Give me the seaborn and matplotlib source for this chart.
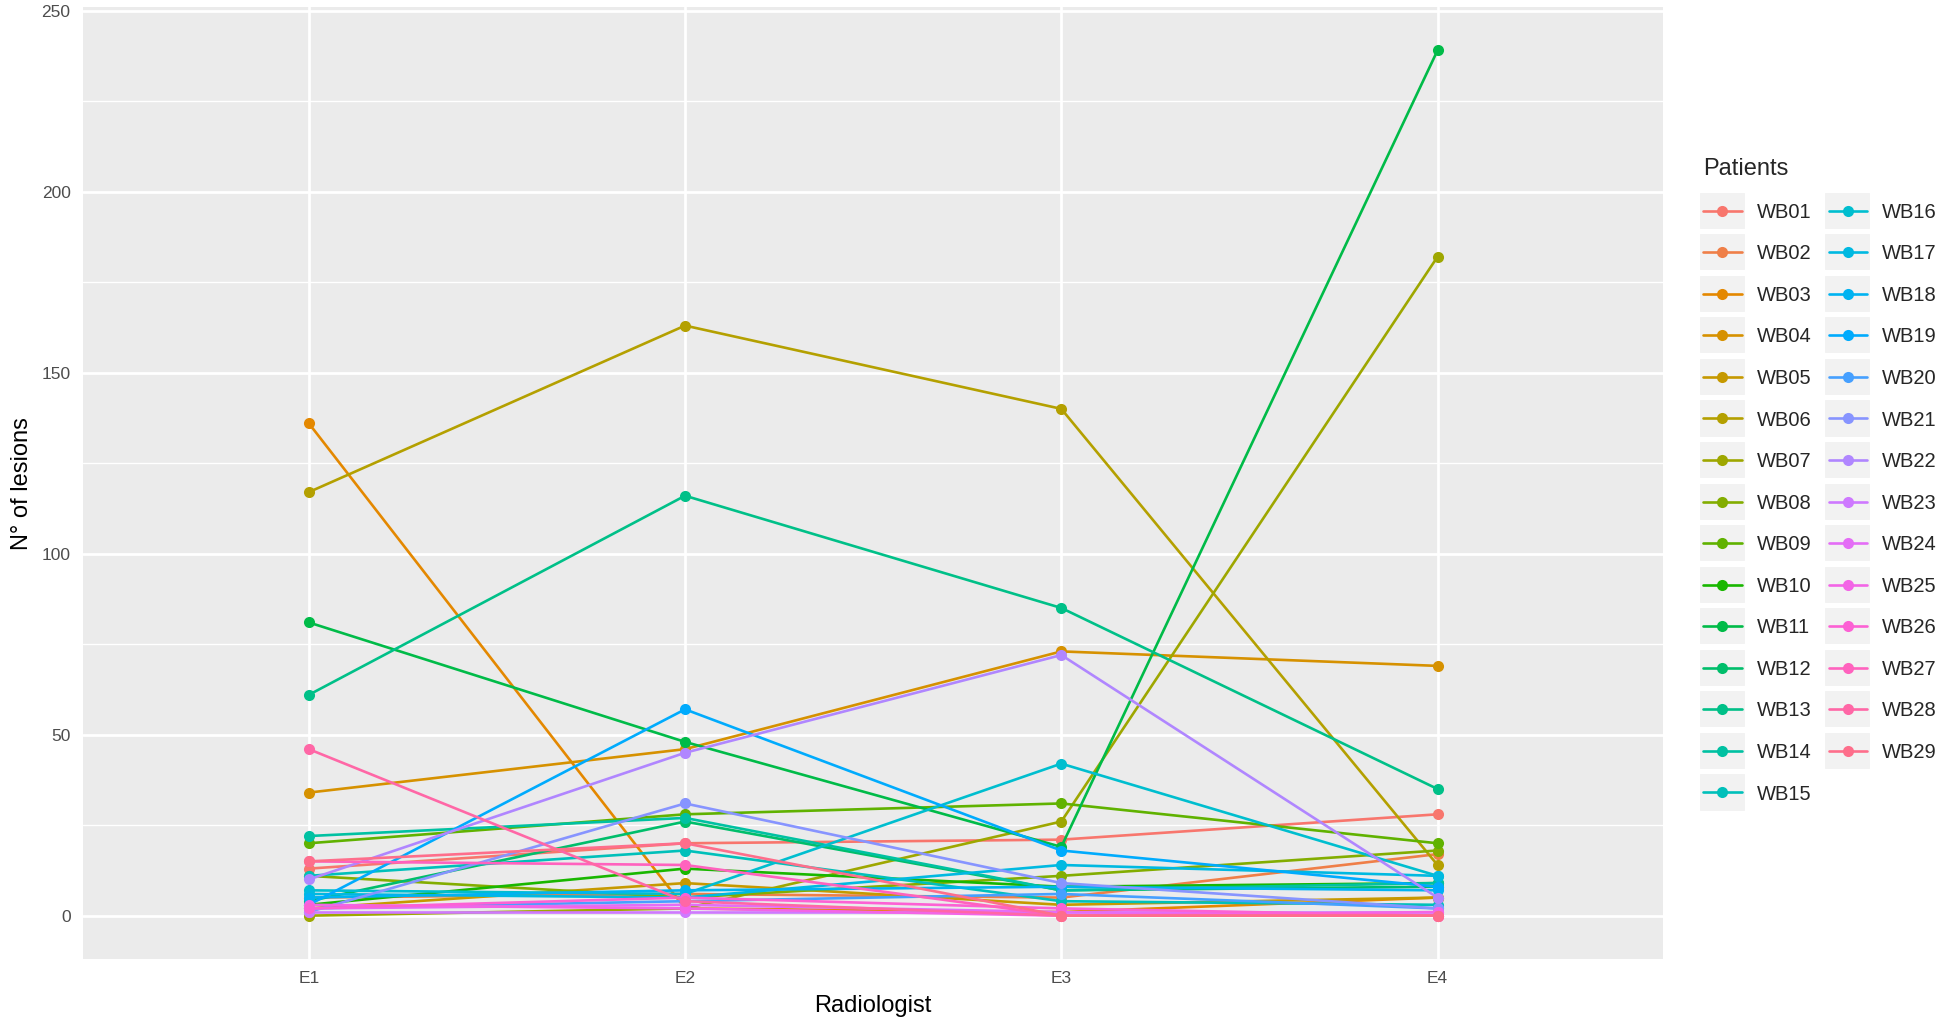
import matplotlib
matplotlib.use("Agg")
import matplotlib.pyplot as plt
from matplotlib.legend_handler import HandlerLine2D
from matplotlib.patches import Rectangle
from matplotlib.ticker import MultipleLocator
import numpy as np
import pandas as pd
import seaborn as sns

radiologists = ["E1", "E2", "E3", "E4"]
patients = ["WB%02d" % i for i in range(1, 30)]

# lesions counted by each radiologist (E1, E2, E3, E4)
wb01 = [13, 20, 21, 28]
wb02 = [5, 6, 5, 17]
wb03 = [136, 2, 1, 5]
wb04 = [34, 46, 73, 69]
wb05 = [2, 9, 3, 5]
wb06 = [117, 163, 140, 14]
wb07 = [0, 2, 26, 182]
wb08 = [11, 5, 11, 18]
wb09 = [20, 28, 31, 20]
wb10 = [3, 13, 8, 9]
wb11 = [81, 48, 19, 239]
wb12 = [4, 26, 7, 8]
wb13 = [61, 116, 85, 35]
wb14 = [22, 27, 7, 9]
wb15 = [11, 18, 4, 3]
wb16 = [7, 6, 42, 11]
wb17 = [6, 5, 14, 11]
wb18 = [5, 7, 8, 7]
wb19 = [3, 57, 18, 8]
wb20 = [2, 4, 6, 2]
wb21 = [1, 31, 9, 2]
wb22 = [10, 45, 72, 5]
wb23 = [1, 1, 1, 1]
wb24 = [2, 3, 1, 0]
wb25 = [3, 2, 0, 1]
wb26 = [2, 5, 2, 0]
wb27 = [15, 14, 0, 0]
wb28 = [46, 4, 0, 0]
wb29 = [15, 20, 0, 0]

series = [wb01, wb02, wb03, wb04, wb05, wb06, wb07, wb08, wb09, wb10,
          wb11, wb12, wb13, wb14, wb15, wb16, wb17, wb18, wb19, wb20,
          wb21, wb22, wb23, wb24, wb25, wb26, wb27, wb28, wb29]


def hue_pal(n, l=65, c=100):
    """ggplot2 style hue palette (polar LUV -> sRGB)."""
    hues = np.linspace(15, 375, n + 1)[:-1]
    xn, yn, zn = 95.047, 100.0, 108.883
    un = 4 * xn / (xn + 15 * yn + 3 * zn)
    vn = 9 * yn / (xn + 15 * yn + 3 * zn)
    cols = []
    for h in hues:
        u = c * np.cos(np.radians(h))
        v = c * np.sin(np.radians(h))
        Y = yn * ((l + 16) / 116) ** 3
        up = u / (13 * l) + un
        vp = v / (13 * l) + vn
        X = Y * 9 * up / (4 * vp)
        Z = Y * (12 - 3 * up - 20 * vp) / (4 * vp)
        xyz = np.array([X, Y, Z]) / 100
        m = np.array([[3.2404542, -1.5371385, -0.4985314],
                      [-0.9692660, 1.8760108, 0.0415560],
                      [0.0556434, -0.2040259, 1.0572252]])
        rgb = m @ xyz
        rgb = np.where(rgb <= 0.0031308, 12.92 * rgb,
                       1.055 * np.abs(rgb) ** (1 / 2.4) - 0.055)
        cols.append(tuple(np.clip(rgb, 0, 1)))
    return cols


rows = []
for p, vals in zip(patients, series):
    for r, v in zip(radiologists, vals):
        rows.append({"Patients": p, "Radiologist": r, "lesions": v})
df = pd.DataFrame(rows)

colors = hue_pal(len(patients))

sns.set_theme(style="white")
plt.rcParams["font.family"] = ["Liberation Sans", "DejaVu Sans"]

fig = plt.figure(figsize=(19.46, 10.30), dpi=100)
ax = fig.add_axes([0.0427, 0.069, 0.812, 0.924])
ax.set_facecolor("#EBEBEB")

sns.lineplot(data=df, x="Radiologist", y="lesions", hue="Patients",
             palette=colors, marker="o", markersize=8, markeredgewidth=0,
             linewidth=1.9, sort=False, ax=ax, legend=False)

ax.set_xlim(-0.6, 3.6)
ax.set_ylim(-11.95, 250.95)
ax.yaxis.set_major_locator(MultipleLocator(50))
ax.yaxis.set_minor_locator(MultipleLocator(25))
ax.grid(which="major", color="white", linewidth=2.0)
ax.grid(which="minor", axis="y", color="white", linewidth=1.0)
ax.set_axisbelow(True)
for s in ax.spines.values():
    s.set_visible(False)
ax.tick_params(axis="both", which="major", length=5, width=1.2, color="#333333",
               labelsize=12.5, labelcolor="#4D4D4D", pad=4)
ax.tick_params(axis="both", which="minor", length=0)
ax.set_xlabel("Radiologist", fontsize=17, color="black", labelpad=6)
ax.set_ylabel("N° of lesions", fontsize=17, color="black", labelpad=6)


class KeyHandler(HandlerLine2D):
    def create_artists(self, legend, orig_handle, xdescent, ydescent,
                       width, height, fontsize, trans):
        pad = 0.85 * height
        bg = Rectangle((-xdescent - 3, -ydescent - pad),
                       width + 6, height + 2 * pad,
                       facecolor="#F2F2F2", edgecolor="white", linewidth=1.5,
                       transform=trans)
        arts = super().create_artists(legend, orig_handle, xdescent, ydescent,
                                      width, height, fontsize, trans)
        return [bg] + arts


handles = [plt.Line2D([], [], color=c, marker="o", markersize=8,
                      markeredgewidth=0, linewidth=1.9) for c in colors]
leg = fig.legend(handles, patients, title="Patients", ncol=2,
                 loc="upper left", bbox_to_anchor=(0.866, 0.864),
                 frameon=False, fontsize=14.5, title_fontsize=17,
                 handlelength=1.9, handletextpad=0.75, labelspacing=1.12,
                 columnspacing=0.85, alignment="left",
                 handler_map={plt.Line2D: KeyHandler()})

fig.savefig("out.png", dpi=100)
